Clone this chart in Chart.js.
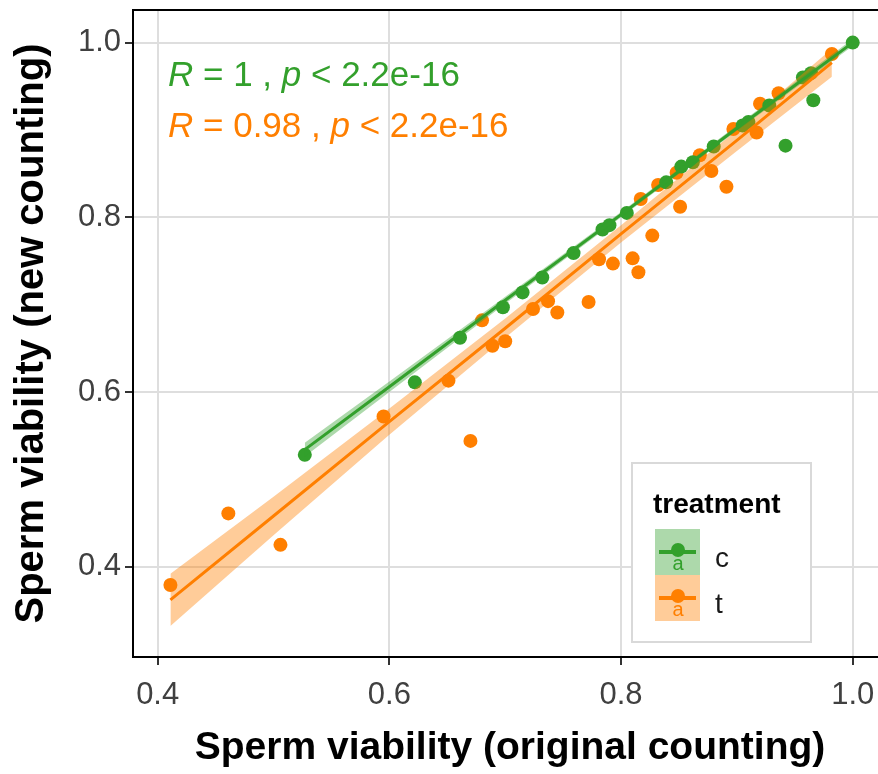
<!DOCTYPE html>
<html>
<head>
<meta charset="utf-8">
<script src="https://cdn.jsdelivr.net/npm/chart.js@4.4.0/dist/chart.umd.min.js"></script>
<style>
  html, body { margin: 0; padding: 0; background: #fff; overflow: hidden; width: 878px; height: 774px; }
  canvas { display: block; }
</style>
</head>
<body>
<!-- el lienzo es algo más ancho que la ventana: el panel original aparece recortado a la derecha -->
<canvas id="viabilityChart" width="894" height="774"></canvas>
<script>
// Valores
const cX = [0.527, 0.622, 0.661, 0.698, 0.715, 0.732, 0.759, 0.784, 0.790, 0.805, 0.839, 0.852, 0.862, 0.880, 0.905, 0.910, 0.928, 0.942, 0.957, 0.964, 0.966, 1.000];
const cY = [0.528, 0.611, 0.662, 0.697, 0.714, 0.731, 0.759, 0.786, 0.791, 0.805, 0.840, 0.858, 0.863, 0.881, 0.905, 0.909, 0.928, 0.882, 0.960, 0.965, 0.934, 1.000];

const tX = [0.411, 0.461, 0.506, 0.595, 0.651, 0.670, 0.680, 0.689, 0.700, 0.724, 0.737, 0.745, 0.772, 0.781, 0.793, 0.810, 0.815, 0.827, 0.817, 0.832, 0.851, 0.848, 0.868, 0.878, 0.891, 0.897, 0.917, 0.920, 0.936, 0.982];
const tY = [0.379, 0.461, 0.425, 0.572, 0.613, 0.544, 0.682, 0.653, 0.658, 0.695, 0.704, 0.691, 0.703, 0.752, 0.747, 0.753, 0.737, 0.779, 0.821, 0.837, 0.812, 0.851, 0.871, 0.853, 0.835, 0.901, 0.897, 0.930, 0.942, 0.987];

// Rectas de regresión y bandas de confianza
const cFitX = [0.527, 0.6, 0.7, 0.8, 0.9, 1.0];
const cFitY = [0.534, 0.606, 0.705, 0.803, 0.902, 1.000];
const cLow  = [0.526, 0.600, 0.701, 0.800, 0.899, 0.996];
const cHigh = [0.542, 0.612, 0.709, 0.806, 0.905, 1.004];

const tFitX = [0.411, 0.5, 0.6, 0.7, 0.8, 0.9, 0.982];
const tFitY = [0.362, 0.458, 0.566, 0.673, 0.781, 0.888, 0.977];
const tLow  = [0.332, 0.436, 0.551, 0.662, 0.771, 0.876, 0.961];
const tHigh = [0.392, 0.480, 0.581, 0.684, 0.791, 0.900, 0.993];

const xTicks = [0.4, 0.6, 0.8, 1.0];
const yTicks = [0.4, 0.6, 0.8, 1.0];

const groups = ['c', 't'];
const corLabels = [
    { r: '1', p: '2.2e-16' },
    { r: '0.98', p: '2.2e-16' }
];

const GREEN = '#33a02c';
const ORANGE = '#ff7f00';
const GREEN_FILL = 'rgba(51,160,44,0.4)';
const ORANGE_FILL = 'rgba(255,127,0,0.4)';
const FONT = '"Liberation Sans", Arial, sans-serif';

const pts = (xs, ys) => xs.map((x, i) => ({ x: x, y: ys[i] }));

document.addEventListener('DOMContentLoaded', function () {
    initViabilityChart();
});

function initViabilityChart() {
    const ctx = document.getElementById('viabilityChart');

    const extras = {
        id: 'extras',
        afterDraw: (chart) => {
            const { ctx, chartArea: { top, left, right } } = chart;
            ctx.save();
            // borde superior del panel
            ctx.strokeStyle = '#000';
            ctx.lineWidth = 2;
            ctx.beginPath();
            ctx.moveTo(left, top);
            ctx.lineTo(right, top);
            ctx.stroke();

            // etiquetas de correlación
            const colors = [GREEN, ORANGE];
            const baselines = [86, 137];
            ctx.textBaseline = 'alphabetic';
            ctx.textAlign = 'left';
            corLabels.forEach((lab, i) => {
                let x = 168;
                const y = baselines[i];
                ctx.fillStyle = colors[i];
                const parts = [
                    ['R', true], [' = ' + lab.r + ' , ', false], ['p', true], [' < ' + lab.p, false]
                ];
                parts.forEach(([txt, it]) => {
                    ctx.font = (it ? 'italic ' : '') + '35px ' + FONT;
                    ctx.fillText(txt, x, y);
                    x += ctx.measureText(txt).width;
                });
            });

            // leyenda
            ctx.fillStyle = '#fff';
            ctx.fillRect(632, 463, 179, 179);
            ctx.strokeStyle = '#d9d9d9';
            ctx.lineWidth = 2;
            ctx.strokeRect(632, 463, 179, 179);
            ctx.fillStyle = '#000';
            ctx.font = 'bold 28px ' + FONT;
            ctx.fillText('treatment', 653, 513);

            const keyFill = [GREEN_FILL, ORANGE_FILL];
            groups.forEach((g, i) => {
                const ky = 529 + i * 46;
                ctx.fillStyle = keyFill[i];
                ctx.fillRect(655, ky, 45, 46);
                ctx.strokeStyle = colors[i];
                ctx.lineWidth = 4;
                ctx.beginPath();
                ctx.moveTo(659, ky + 23);
                ctx.lineTo(696, ky + 23);
                ctx.stroke();
                ctx.fillStyle = colors[i];
                ctx.font = '20px ' + FONT;
                ctx.textAlign = 'center';
                ctx.fillText('a', 678, ky + 41);
                ctx.beginPath();
                ctx.arc(678, ky + 21, 7, 0, Math.PI * 2);
                ctx.fill();
                ctx.textAlign = 'left';
                ctx.fillStyle = '#1a1a1a';
                ctx.font = '28px ' + FONT;
                ctx.fillText(g, 715, ky + 38);
            });
            ctx.restore();
        }
    };

    new Chart(ctx, {
        type: 'scatter',
        data: {
            datasets: [
                // rectas
                { data: pts(cFitX, cFitY), showLine: true, borderColor: GREEN, borderWidth: 3, pointRadius: 0, order: 1 },
                { data: pts(tFitX, tFitY), showLine: true, borderColor: ORANGE, borderWidth: 3, pointRadius: 0, order: 1 },
                // bandas
                { data: pts(cFitX, cLow), showLine: true, borderWidth: 0, borderColor: 'rgba(0,0,0,0)', pointRadius: 0, fill: false, order: 2 },
                { data: pts(cFitX, cHigh), showLine: true, borderWidth: 0, borderColor: 'rgba(0,0,0,0)', pointRadius: 0, fill: '-1', backgroundColor: GREEN_FILL, order: 2 },
                { data: pts(tFitX, tLow), showLine: true, borderWidth: 0, borderColor: 'rgba(0,0,0,0)', pointRadius: 0, fill: false, order: 2 },
                { data: pts(tFitX, tHigh), showLine: true, borderWidth: 0, borderColor: 'rgba(0,0,0,0)', pointRadius: 0, fill: '-1', backgroundColor: ORANGE_FILL, order: 2 },
                // puntos
                { data: pts(cX, cY), pointRadius: 7, pointBackgroundColor: GREEN, pointBorderWidth: 0, order: 3 },
                { data: pts(tX, tY), pointRadius: 7, pointBackgroundColor: ORANGE, pointBorderWidth: 0, order: 3 }
            ]
        },
        options: {
            responsive: false,
            animation: false,
            layout: { padding: { top: 10, right: 0, left: 0, bottom: 0 } },
            plugins: {
                legend: { display: false },
                tooltip: { enabled: false }
            },
            scales: {
                x: {
                    type: 'linear',
                    min: 0.3787,
                    max: 1.0296,
                    afterBuildTicks: (s) => { s.ticks = xTicks.map(v => ({ value: v })); },
                    afterFit: (s) => {
                        s.height = 117;
                        s.paddingLeft = 0; s.paddingRight = 0;
                    },
                    grid: { color: '#dedede', lineWidth: 2, tickLength: 8, tickColor: '#333', tickWidth: 2 },
                    border: { display: true, color: '#000', width: 2 },
                    ticks: {
                        padding: 12,
                        color: '#404040',
                        font: { family: FONT, size: 31 },
                        callback: (v) => Number(v).toFixed(1)
                    },
                    title: {
                        display: true,
                        text: 'Sperm viability (original counting)',
                        color: '#000',
                        padding: { top: 0, bottom: 2 },
                        font: { family: FONT, size: 39, weight: 'bold' }
                    }
                },
                y: {
                    type: 'linear',
                    min: 0.2966,
                    max: 1.0373,
                    afterBuildTicks: (s) => { s.ticks = yTicks.map(v => ({ value: v })); },
                    afterFit: (s) => {
                        s.width = 133;
                        s.paddingTop = 0; s.paddingBottom = 0;
                    },
                    grid: { color: '#dedede', lineWidth: 2, tickLength: 8, tickColor: '#333', tickWidth: 2 },
                    border: { display: true, color: '#000', width: 2 },
                    ticks: {
                        padding: 4,
                        color: '#404040',
                        font: { family: FONT, size: 31 },
                        callback: (v) => Number(v).toFixed(1)
                    },
                    title: {
                        display: true,
                        text: 'Sperm viability (new counting)',
                        color: '#000',
                        padding: { top: 8, bottom: 0 },
                        font: { family: FONT, size: 40, weight: 'bold' }
                    }
                }
            }
        },
        plugins: [extras]
    });
}
</script>
</body>
</html>
